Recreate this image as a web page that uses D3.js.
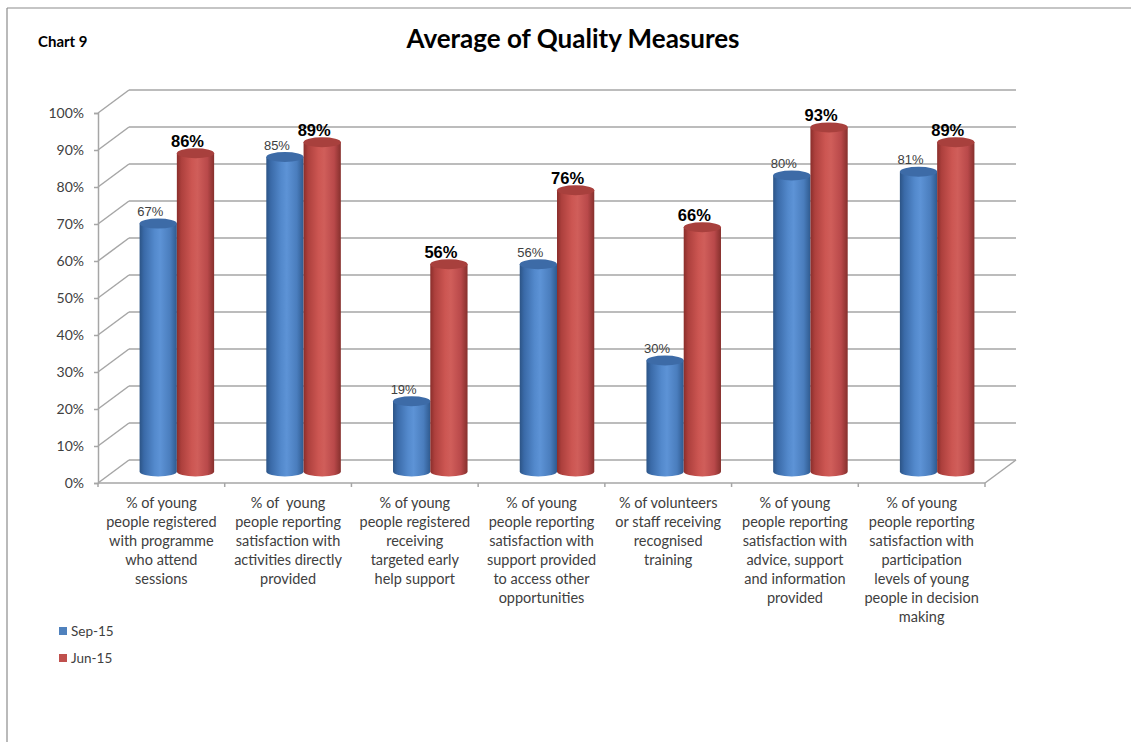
<!DOCTYPE html>
<html>
<head>
<meta charset="utf-8">
<script src="https://cdn.jsdelivr.net/npm/d3@7"></script>
<style>
  html, body { margin: 0; padding: 0; background: #fff; }
  svg { display: block; }
  text { white-space: pre; }
</style>
</head>
<body>
<svg id="chart" width="1131" height="742"></svg>
<script>
// ---- data ----
const categories = [
  "% of young people registered with programme who attend sessions",
  "% of young people reporting satisfaction with activities directly provided",
  "% of young people registered receiving targeted early help support",
  "% of young people reporting satisfaction with support provided to access other opportunities",
  "% of volunteers or staff receiving recognised training",
  "% of young people reporting satisfaction with advice, support and information provided",
  "% of young people reporting satisfaction with participation levels of young people in decision making"
];
const categoryLines = [
  ["% of young", "people registered", "with programme", "who attend", "sessions"],
  ["% of  young", "people reporting", "satisfaction with", "activities directly", "provided"],
  ["% of young", "people registered", "receiving", "targeted early", "help support"],
  ["% of young", "people reporting", "satisfaction with", "support provided", "to access other", "opportunities"],
  ["% of volunteers", "or staff receiving", "recognised", "training"],
  ["% of young", "people reporting", "satisfaction with", "advice, support", "and information", "provided"],
  ["% of young", "people reporting", "satisfaction with", "participation", "levels of young", "people in decision", "making"]
];
const seriesNames = ["Sep-15", "Jun-15"];
const sep15 = [0.67, 0.85, 0.19, 0.56, 0.30, 0.80, 0.81];
const jun15 = [0.86, 0.89, 0.56, 0.76, 0.66, 0.93, 0.89];
const yTicks = [0, 0.1, 0.2, 0.3, 0.4, 0.5, 0.6, 0.7, 0.8, 0.9, 1.0];

const seriesValues = [sep15, jun15];
const seriesColors = {
  "Sep-15": { base: "#4F81BD", top: "#3D6BA7", stops: ["#2c5486", "#3a6aa8", "#5389cc", "#5d93d6", "#4a7dbd", "#2f5a8f"] },
  "Jun-15": { base: "#C0504D", top: "#A8403D", stops: ["#8a2e2b", "#ad403d", "#cc5652", "#d05e5a", "#b9494a", "#86302d"] }
};

// ---- layout ----
const svg = d3.select("#chart");
const front = { left: 98, right: 985, bottom: 483, top: 113 };
const depth = { dx: 31, dy: -23 };   // offset from front plane to back wall
const barDepth = 0.5;                // cylinders sit midway between front and back

const x = d3.scaleBand().domain(categories).range([front.left, front.right]).padding(0);
const xSeries = d3.scaleBand().domain(seriesNames).range([0, x.bandwidth()])
  .paddingInner(0).paddingOuter(0.7);
const y = d3.scaleLinear().domain([0, 1]).range([front.bottom, front.top]);

const off = t => ({ dx: depth.dx * t, dy: depth.dy * t });
const grid = "#a6a6a6";
const labelFont = "Lato, 'Open Sans', sans-serif";

// outer frame (top and left edges)
svg.append("line").attr("x1", 7).attr("y1", 8).attr("x2", 1131).attr("y2", 8)
  .attr("stroke", "#8c8c8c").attr("stroke-width", 1.2);
svg.append("line").attr("x1", 7).attr("y1", 8).attr("x2", 7).attr("y2", 742)
  .attr("stroke", "#8c8c8c").attr("stroke-width", 1.2);

// titles
svg.append("text").attr("x", 38).attr("y", 47)
  .attr("font-family", labelFont).attr("font-weight", 700)
  .attr("font-size", 15).attr("fill", "#000").text("Chart 9");
svg.append("text").attr("x", 573).attr("y", 48).attr("text-anchor", "middle")
  .attr("font-family", labelFont).attr("font-weight", 700)
  .attr("font-size", 26).attr("fill", "#000").text("Average of Quality Measures");

// ---- walls: back gridlines + side-wall diagonals ----
const back = off(1);
const gGrid = svg.append("g");
yTicks.forEach(v => {
  const yf = y(v);
  gGrid.append("line")
    .attr("x1", front.left).attr("y1", yf)
    .attr("x2", front.left + back.dx).attr("y2", yf + back.dy)
    .attr("stroke", grid).attr("stroke-width", 1.5);
  gGrid.append("line")
    .attr("x1", front.left + back.dx).attr("y1", yf + back.dy)
    .attr("x2", front.right + back.dx).attr("y2", yf + back.dy)
    .attr("stroke", grid).attr("stroke-width", 1.5);
});
// floor front edge and right edge
gGrid.append("line").attr("x1", front.left).attr("y1", front.bottom)
  .attr("x2", front.right).attr("y2", front.bottom)
  .attr("stroke", grid).attr("stroke-width", 1.5);
gGrid.append("line").attr("x1", front.right).attr("y1", front.bottom)
  .attr("x2", front.right + back.dx).attr("y2", front.bottom + back.dy)
  .attr("stroke", grid).attr("stroke-width", 1.5);

// vertical value axis
const yAxis = d3.axisLeft(y).tickValues(yTicks).tickFormat(d3.format(".0%")).tickSize(4).tickPadding(10);
const gy = svg.append("g").attr("transform", `translate(${front.left},0)`).call(yAxis);
gy.select(".domain").attr("stroke", grid).attr("stroke-width", 1.5);
gy.selectAll(".tick line").attr("stroke", grid).attr("stroke-width", 1.5);
gy.selectAll(".tick text").attr("font-family", labelFont)
  .attr("font-size", 14).attr("fill", "#404040");

// category axis ticks
const xAxis = d3.axisBottom(x).tickSize(0).tickFormat("");
const gx = svg.append("g").attr("transform", `translate(0,${front.bottom})`).call(xAxis);
gx.select(".domain").remove();
const boundaries = categories.map(c => x(c)).concat([x(categories[categories.length - 1]) + x.bandwidth()]);
gx.selectAll(".bound").data(boundaries).enter().append("line")
  .attr("x1", d => d).attr("x2", d => d).attr("y1", 0).attr("y2", 4)
  .attr("stroke", grid).attr("stroke-width", 1.5);

// category labels
const gLab = svg.append("g").attr("font-family", labelFont)
  .attr("font-size", 14.5).attr("fill", "#404040").attr("text-anchor", "middle");
categories.forEach((c, i) => {
  const cx = x(c) + x.bandwidth() / 2;
  const t = gLab.append("text").attr("x", cx).attr("y", 508);
  categoryLines[i].forEach((ln, j) => {
    t.append("tspan").attr("x", cx).attr("dy", j === 0 ? 0 : 19).text(ln);
  });
});

// ---- gradients for cylinders ----
const defs = svg.append("defs");
seriesNames.forEach((s, si) => {
  const g = defs.append("linearGradient").attr("id", "grad" + si)
    .attr("x1", "0%").attr("x2", "100%").attr("y1", "0%").attr("y2", "0%");
  const offs = [0, 0.12, 0.4, 0.55, 0.82, 1];
  seriesColors[s].stops.forEach((col, k) => {
    g.append("stop").attr("offset", offs[k]).attr("stop-color", col);
  });
});

// ---- cylinders ----
const mid = off(barDepth);
const ry = 5;
const gBars = svg.append("g");
const items = [];
categories.forEach((c, ci) => {
  seriesNames.forEach((s, si) => {
    items.push({ c, s, si, v: seriesValues[si][ci] });
  });
});
const bars = gBars.selectAll("g.bar").data(items).enter().append("g").attr("class", "bar");
bars.each(function (d) {
  const g = d3.select(this);
  const w = xSeries.bandwidth();
  const x0 = x(d.c) + xSeries(d.s) + mid.dx;
  const rx = w / 2;
  const cx = x0 + rx;
  const yTop = y(d.v) + mid.dy;
  const yBot = y(0) + mid.dy;
  // body: side of the cylinder closed by the lower half of its base
  g.append("path")
    .attr("d", `M${x0},${yTop} L${x0},${yBot} A${rx},${ry} 0 0 0 ${x0 + w},${yBot} L${x0 + w},${yTop} Z`)
    .attr("fill", `url(#grad${d.si})`);
  // top cap
  g.append("ellipse").attr("cx", cx).attr("cy", yTop).attr("rx", rx).attr("ry", ry)
    .attr("fill", seriesColors[d.s].top);
});

// ---- value labels ----
const gVal = svg.append("g");
gVal.selectAll("text").data(items).enter().append("text")
  .attr("x", d => x(d.c) + xSeries(d.s) + xSeries.bandwidth() / 2 + mid.dx - 8)
  .attr("y", d => y(d.v) + mid.dy - (d.si === 0 ? 7.5 : 6.5))
  .attr("text-anchor", "middle")
  .attr("font-family", "'Liberation Sans', Arial, sans-serif")
  .attr("font-size", d => d.si === 0 ? 13 : 16.5)
  .attr("font-weight", d => d.si === 0 ? 400 : 700)
  .attr("fill", d => d.si === 0 ? "#404040" : "#000")
  .text(d => d3.format(".0%")(d.v));

// ---- legend ----
const gLeg = svg.append("g").attr("font-family", labelFont)
  .attr("font-size", 13.5).attr("fill", "#404040");
seriesNames.forEach((s, i) => {
  const yy = 631 + i * 27;
  gLeg.append("rect").attr("x", 59).attr("y", yy - 4).attr("width", 8).attr("height", 8)
    .attr("fill", seriesColors[s].base);
  gLeg.append("text").attr("x", 71).attr("y", yy + 5).text(s);
});
</script>
</body>
</html>
